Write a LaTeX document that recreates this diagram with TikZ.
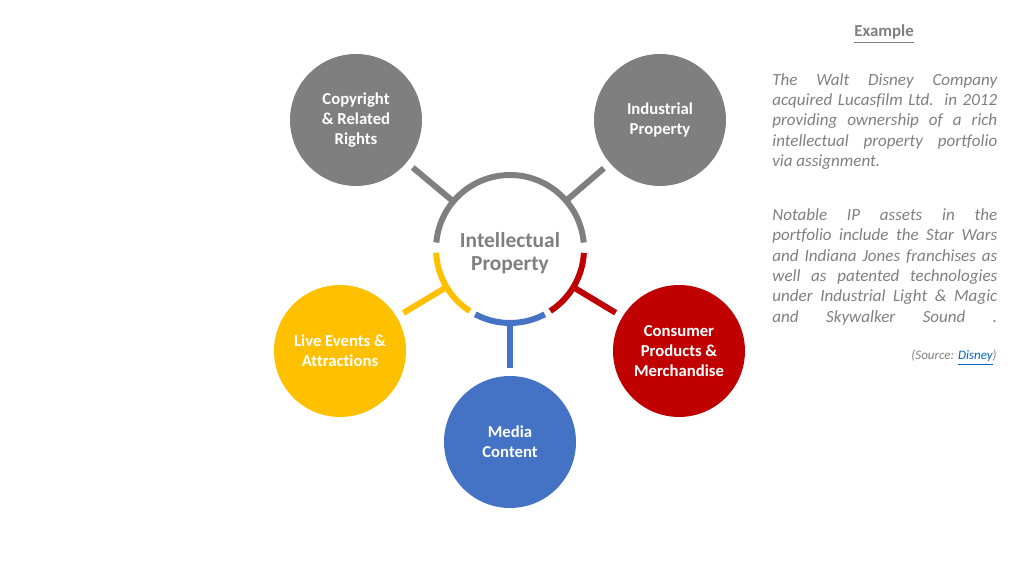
\documentclass[tikz,border=0pt]{standalone}
\usepackage{fontspec}
\setmainfont{Carlito}[Ligatures=NoCommon]
\usepackage{tikz}
\usetikzlibrary{calc}

\definecolor{ipgray}{HTML}{7F7F7F}
\definecolor{ipyellow}{HTML}{FFC000}
\definecolor{ipblue}{HTML}{4472C4}
\definecolor{ipred}{HTML}{C00000}
\definecolor{iplink}{HTML}{0563C1}

\tikzset{
  area/.style={circle, minimum size=2.64cm, inner sep=0pt, outer sep=0pt,
    text=white, align=center, font=\bfseries\fontsize{9.5}{11.4}\selectfont},
  spoke/.style={line width=3.4pt, shorten >=0.16cm},
  ringarc/.style={line width=3.4pt}
}

\begin{document}
\begin{tikzpicture}[x=0.02cm, y=0.02cm]

\useasboundingbox (0,0) rectangle (1024,573);

\node [circle, minimum size=2.96cm, inner sep=0pt, outer sep=0pt] (ring) at (510,324) {};
\node [text=ipgray, align=center, font=\bfseries\fontsize{12.2}{13}\selectfont] (title) at (510,320)
  {Intellectual\\Property};

\node [area, fill=ipgray] (copy) at (356,453) {Copyright\\\& Related\\Rights};
\node [area, fill=ipgray] (indus) at (660,453) {Industrial\\Property};
\node [area, fill=ipred] (cons) at (679,222) {Consumer\\Products \&\\Merchandise};
\node [area, fill=ipblue] (media) at (510,131) {Media\\Content};
\node [area, fill=ipyellow] (live) at (340,222) {Live Events \&\\Attractions};

\draw [ringarc, ipgray] (ring.5) arc [start angle=5, end angle=175, radius=1.48cm];
\draw [ringarc, ipyellow] (ring.183) arc [start angle=183, end angle=237, radius=1.48cm];
\draw [ringarc, ipblue] (ring.242) arc [start angle=242, end angle=298, radius=1.48cm];
\draw [ringarc, ipred] (ring.303) arc [start angle=303, end angle=357, radius=1.48cm];

\foreach \n/\c in {copy/ipgray, indus/ipgray, cons/ipred, media/ipblue, live/ipyellow}
    \draw [spoke, \c] (ring) -- (\n);

% example text on the right
\node [text=ipgray, font=\bfseries\fontsize{9.6}{10}\selectfont] (exhead) at (884,539) {\underline{Example}};

\node [anchor=north west, inner sep=0pt, text width=4.5cm, align=justify, text=ipgray,
  font=\itshape\fontsize{9.7}{11.6}\selectfont] (expara) at (772,500)
  {The Walt Disney Company\linebreak acquired Lucasfilm Ltd. in 2012\linebreak providing ownership of a rich\linebreak
   intellectual property portfolio\linebreak via assignment.\par
   \vspace{19pt}
   {\parfillskip=0pt Notable IP assets in the\linebreak portfolio include the Star Wars\linebreak and Indiana Jones franchises as\linebreak
   well as patented technologies\linebreak under Industrial Light \& Magic\linebreak and Skywalker Sound .\par}};

\node [anchor=east, inner sep=0pt, text=ipgray, font=\itshape\fontsize{7.4}{8}\selectfont] (source) at (997,215)
  {(Source: \textcolor{iplink}{\underline{Disney}})};

\end{tikzpicture}
\end{document}
